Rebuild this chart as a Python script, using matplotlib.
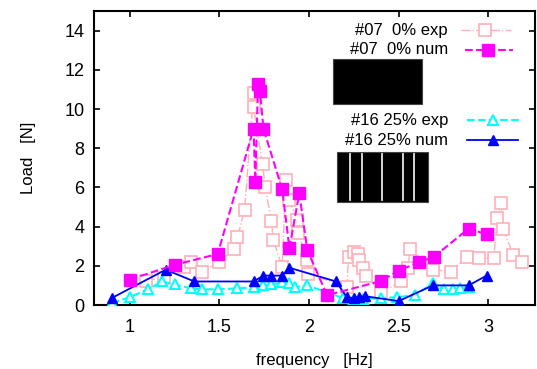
import matplotlib
matplotlib.use("Agg")
import matplotlib.pyplot as plt
from matplotlib.lines import Line2D
from matplotlib.patches import Rectangle

plt.rcParams['font.family'] = ['Liberation Sans', 'DejaVu Sans']

# #07 0% exp (pink open squares)
f07_exp = [1.09, 1.19, 1.30, 1.34, 1.40, 1.50, 1.58, 1.60, 1.64, 1.69, 1.69, 1.74, 1.755,
           1.79, 1.80, 1.85, 1.87, 1.89, 1.93, 1.94, 1.99, 1.995,
           2.21, 2.22, 2.25, 2.27, 2.28, 2.30, 2.32, 2.40, 2.51, 2.55, 2.565, 2.69,
           2.79, 2.88, 2.95, 3.03, 3.05, 3.07, 3.08, 3.14, 3.19]
L07_exp = [1.25, 1.4, 1.95, 2.2, 1.7, 2.2, 2.85, 3.45, 4.85, 10.8, 10.1, 7.2, 6.0,
           4.3, 3.3, 1.95, 6.4, 5.35, 4.35, 3.65, 2.3, 1.6,
           0.9, 2.45, 2.7, 2.6, 2.3, 1.9, 1.5, 0.6, 1.2, 1.9, 2.85, 1.8,
           1.7, 2.45, 2.4, 2.4, 4.45, 5.2, 3.9, 2.55, 2.2]

# #07 0% num (magenta filled squares)
f07_num = [1.0, 1.25, 1.49, 1.69, 1.70, 1.715, 1.726, 1.745, 1.85, 1.89, 1.945, 1.99, 2.10,
           2.40, 2.50, 2.615, 2.695, 2.89, 2.99]
L07_num = [1.3, 2.05, 2.6, 9.0, 6.3, 11.3, 10.9, 9.0, 5.9, 2.9, 5.7, 2.8, 0.5,
           1.22, 1.75, 2.2, 2.45, 3.9, 3.6]

# #16 25% exp (cyan open triangles)
f16_exp = [0.90, 1.0, 1.10, 1.18, 1.25, 1.34, 1.40, 1.49, 1.60, 1.69, 1.74, 1.79, 1.85, 1.89,
           1.92, 1.99, 2.19, 2.25, 2.30, 2.40, 2.49, 2.59, 2.69, 2.75, 2.80, 2.84, 2.89]
L16_exp = [0.1, 0.4, 0.8, 1.2, 1.05, 0.85, 0.8, 0.8, 0.85, 0.9, 1.0, 1.05, 1.15, 1.1,
           0.9, 1.0, 0.35, 0.3, 0.3, 0.35, 0.4, 0.5, 1.1, 0.8, 0.8, 0.85, 0.9]

# #16 25% num (blue filled triangles)
f16_num = [0.90, 1.20, 1.36, 1.69, 1.745, 1.79, 1.85, 1.89, 2.15, 2.21, 2.25, 2.28, 2.31,
           2.50, 2.69, 2.89, 2.99]
L16_num = [0.36, 1.8, 1.2, 1.2, 1.5, 1.5, 1.5, 1.9, 1.2, 0.4, 0.35, 0.4, 0.45,
           0.2, 1.0, 1.0, 1.5]

fig = plt.figure(figsize=(5.37, 3.69), dpi=100)
W, H = 537.0, 369.0
ax = fig.add_axes([94 / W, 1 - 305 / H, 441 / W, 294 / H])

pink = '#ffb0b8'
mag = '#ff00ff'
cyan = '#00ffff'
blue = '#0000ff'

ax.plot(f07_exp, L07_exp, color=pink, ls='-.', lw=1.0, marker='s', ms=8,
        mfc='white', mec=pink, mew=1.2, zorder=2)
ax.plot(f16_exp, L16_exp, color=cyan, ls='--', lw=1.5, marker='^', ms=7,
        mfc='white', mec=cyan, mew=1.5, zorder=3)
ax.plot(f16_num, L16_num, color=blue, ls='-', lw=1.3, marker='^', ms=7,
        mfc=blue, mec=blue, zorder=4)
ax.plot(f07_num, L07_num, color=mag, ls='--', lw=1.5, marker='s', ms=8,
        mfc=mag, mec=mag, zorder=5)

ax.set_xlim(0.8, 3.26)
ax.set_ylim(0, 15)
ax.set_xticks([1, 1.5, 2, 2.5, 3])
ax.set_xticklabels(['1', '1.5', '2', '2.5', '3'])
ax.set_yticks([0, 2, 4, 6, 8, 10, 12, 14])
ax.tick_params(direction='in', top=True, right=True, length=4, width=1.2,
               labelsize=13)
ax.tick_params(axis='x', pad=10)
ax.tick_params(axis='y', pad=7)
for s in ax.spines.values():
    s.set_linewidth(1.5)
ax.set_xlabel('frequency   [Hz]', fontsize=12, labelpad=12)
ax.set_ylabel('Load   [N]', fontsize=12, labelpad=20)

# manual legend (figure pixel coordinates)
def fx(x):
    return x / W
def fy(y):
    return 1 - y / H

entries = [
    ('#07  0% exp', 30, 461, 511, 485, dict(color=pink, ls='-.', lw=1.0, marker='s', ms=8, mfc='white', mec=pink, mew=1.2)),
    ('#07  0% num', 50, 465, 513, 488, dict(color=mag, ls='--', lw=1.5, marker='s', ms=8, mfc=mag, mec=mag)),
    ('#16 25% exp', 120, 467, 519, 493, dict(color=cyan, ls='--', lw=1.5, marker='^', ms=7, mfc='white', mec=cyan, mew=1.5)),
    ('#16 25% num', 140, 467, 518, 493, dict(color=blue, ls='-', lw=1.3, marker='^', ms=7, mfc=blue, mec=blue)),
]
for label, y, x0, x1, xm, st in entries:
    fig.text(fx(448), fy(y), label, ha='right', va='center', fontsize=12)
    kw = dict(st)
    mk = kw.pop('marker'); ms = kw.pop('ms'); mfc = kw.pop('mfc'); mec = kw.pop('mec')
    mew = kw.pop('mew', 1.0)
    fig.add_artist(Line2D([fx(x0), fx(x1)], [fy(y), fy(y)], transform=fig.transFigure, **kw))
    fig.add_artist(Line2D([fx(xm)], [fy(y)], transform=fig.transFigure, marker=mk, ms=ms,
                          mfc=mfc, mec=mec, mew=mew, ls='none'))

# black images
fig.add_artist(Rectangle((fx(333), fy(104)), (422 - 333) / W, (104 - 59) / H,
                         transform=fig.transFigure, facecolor='black', edgecolor='#444444', lw=0.8))
fig.add_artist(Rectangle((fx(337), fy(202)), (428 - 337) / W, (202 - 152) / H,
                         transform=fig.transFigure, facecolor='black', edgecolor='#444444', lw=0.8))
for sx in [350, 362, 382, 403, 414]:
    fig.add_artist(Line2D([fx(sx), fx(sx)], [fy(154), fy(200)], transform=fig.transFigure,
                          color='#e8e8e8', lw=1.3))

fig.savefig('out.png', dpi=100)
